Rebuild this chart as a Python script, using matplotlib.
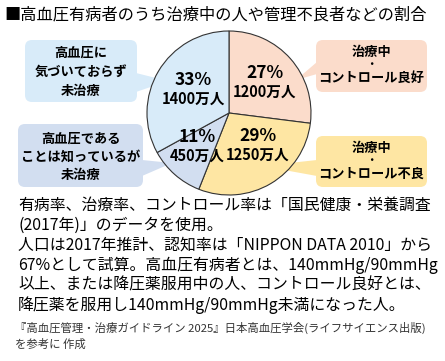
import matplotlib
matplotlib.use("Agg")
import matplotlib.pyplot as plt
from matplotlib.patches import FancyBboxPatch, Polygon

plt.rcParams['font.family'] = ['Noto Sans CJK JP', 'DejaVu Sans']

# data (clockwise from 12 o'clock)
groups = ["治療中・コントロール良好", "治療中・コントロール不良",
          "高血圧であることは知っているが未治療", "高血圧に気づいておらず未治療"]
shares = [27, 29, 11, 33]
people = [1200, 1250, 450, 1400]   # 万人
colors = ["#FBDCCB", "#FEE6A3", "#D2DEF0", "#D8EBF9"]

title = "■高血圧有病者のうち治療中の人や管理不良者などの割合"
notes = [
    "有病率、治療率、コントロール率は「国民健康・栄養調査",
    "(2017年)」のデータを使用。",
    "人口は2017年推計、認知率は「NIPPON DATA 2010」から",
    "67%として試算。高血圧有病者とは、140mmHg/90mmHg",
    "以上、または降圧薬服用中の人、コントロール良好とは、",
    "降圧薬を服用し140mmHg/90mmHg未満になった人。",
]
source = ["『高血圧管理・治療ガイドライン 2025』日本高血圧学会(ライフサイエンス出版)",
          "を参考に 作成"]

W, H = 445, 361
fig = plt.figure(figsize=(W / 100, H / 100), dpi=100)
fig.patch.set_facecolor("white")

# canvas axes in pixel coordinates (image orientation)
ax = fig.add_axes([0, 0, 1, 1])
ax.set_xlim(0, W)
ax.set_ylim(H, 0)
ax.axis("off")

# pie axes
cx, cy, r = 229, 113, 82
pad = 2
pax = fig.add_axes([(cx - r - pad) / W, (H - cy - r - pad) / H,
                    (2 * r + 2 * pad) / W, (2 * r + 2 * pad) / H], zorder=3)
pax.pie(shares, colors=colors, startangle=90, counterclock=False,
        wedgeprops=dict(edgecolor="#333333", linewidth=0.8))
lim = (r + pad) / r
pax.set_xlim(-lim, lim)
pax.set_ylim(-lim, lim)
pax.axis("off")

# overlay for slice labels
top = fig.add_axes([0, 0, 1, 1], zorder=5)
top.set_xlim(0, W)
top.set_ylim(H, 0)
top.axis("off")
top.patch.set_alpha(0)

ax.text(4, 15, title, fontsize=11.7, va="center", ha="left")

# callout boxes: (x0, y0, x1, y1, lines, line ys, pointer polygon, color index)
boxes = [
    (316, 40, 427, 92, ["治療中", "・", "コントロール良好"], [52, 65, 78],
     [(317, 62), (317, 74), (296, 80)], 0),
    (316, 136, 427, 187, ["治療中", "・", "コントロール不良"], [148, 161, 174],
     [(317, 160), (317, 176), (262, 166)], 1),
    (18, 124, 143, 187, ["高血圧である", "ことは知っているが", "未治療"], [139, 157, 175],
     [(142, 160), (142, 176), (172, 163)], 2),
    (25, 40, 137, 102, ["高血圧に", "気づいておらず", "未治療"], [53, 72, 91],
     [(136, 73), (136, 92), (168, 81)], 3),
]
for x0, y0, x1, y1, lines, ys, tri, ci in boxes:
    ax.add_patch(FancyBboxPatch((x0, y0), x1 - x0, y1 - y0,
                                boxstyle="round,pad=0,rounding_size=7",
                                facecolor=colors[ci], edgecolor="none", zorder=1))
    ax.add_patch(Polygon(tri, closed=True, facecolor=colors[ci],
                         edgecolor="none", zorder=1))
    xc = (x0 + x1) / 2
    for s, y in zip(lines, ys):
        fs = 7.5 if s == "・" else 9.5
        ax.text(xc, y, s, fontsize=fs, fontweight="bold", ha="center",
                va="center", zorder=2)

# slice labels
label_pos = [(265, 73), (258, 136), (197, 137), (193, 80)]
for (lx, ly), s, p in zip(label_pos, shares, people):
    top.text(lx, ly, f"{s}%", fontsize=12.5, fontweight="bold", ha="center",
             va="center")
    top.text(lx, ly + 19, f"{p}万人", fontsize=10.5, fontweight="bold",
             ha="center", va="center")

for i, s in enumerate(notes):
    ax.text(18, 205 + i * 20, s, fontsize=11.4, ha="left", va="center")

for i, s in enumerate(source):
    ax.text(15, 328 + i * 16, s, fontsize=8.2, ha="left", va="center",
            color="#333333")

fig.savefig("out.png", dpi=100, facecolor="white")
